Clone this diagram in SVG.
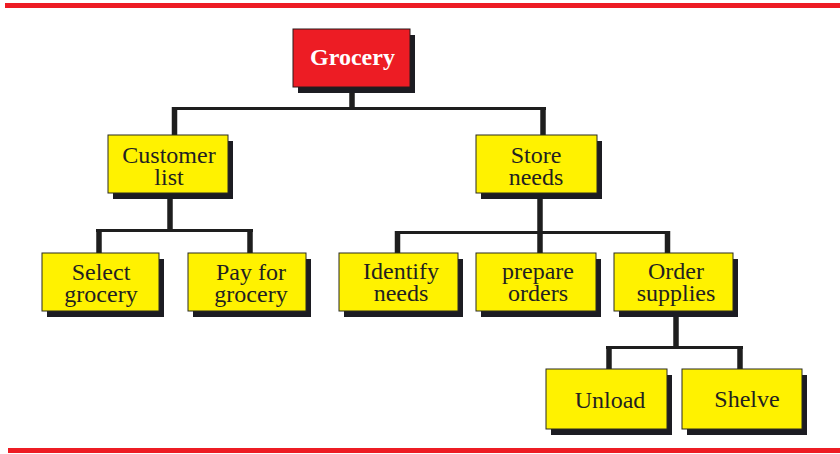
<svg xmlns="http://www.w3.org/2000/svg" width="840" height="454" viewBox="0 0 840 454">
<style>
.shadow{fill:#1c1c22}
.box{fill:#fff200;stroke:#2a2a20;stroke-width:1}
.root{fill:#ed1c24;stroke:#2a1a1a;stroke-width:1}
.t{font-family:"Liberation Serif","Times New Roman",serif;font-size:24px;fill:#231f20;text-anchor:middle}
.rt{font-family:"Liberation Serif","Times New Roman",serif;font-size:24px;font-weight:bold;fill:#ffffff;text-anchor:middle}
.h{stroke:#1e1e1e;stroke-width:3;fill:none}
.v{stroke:#1e1e1e;stroke-width:5.5;fill:none}
.rule{fill:#ed1c24}
</style>
<rect class="rule" x="5" y="3" width="835" height="5"/>
<rect class="rule" x="8" y="448" width="832" height="5"/>
<g id="connectors">
<line class="v" x1="352" y1="90" x2="352" y2="108"/>
<line class="h" x1="172" y1="108.5" x2="546" y2="108.5"/>
<line class="v" x1="174.5" y1="107" x2="174.5" y2="135"/>
<line class="v" x1="543" y1="107" x2="543" y2="135"/>
<line class="v" x1="170" y1="196" x2="170" y2="230"/>
<line class="h" x1="96" y1="230.5" x2="253" y2="230.5"/>
<line class="v" x1="99" y1="229" x2="99" y2="253"/>
<line class="v" x1="250" y1="229" x2="250" y2="253"/>
<line class="v" x1="540" y1="196" x2="540" y2="253"/>
<line class="h" x1="395" y1="232.5" x2="670" y2="232.5"/>
<line class="v" x1="397.5" y1="231" x2="397.5" y2="253"/>
<line class="v" x1="667.5" y1="231" x2="667.5" y2="253"/>
<line class="v" x1="676" y1="315" x2="676" y2="347"/>
<line class="h" x1="606" y1="347.5" x2="743" y2="347.5"/>
<line class="v" x1="609" y1="346" x2="609" y2="369"/>
<line class="v" x1="740" y1="346" x2="740" y2="369"/>
</g>
<g id="grocery">
<rect class="shadow" x="298" y="35" width="117" height="58"/>
<rect class="root" x="293" y="29" width="117" height="58"/>
<text class="rt" x="352.5" y="65">Grocery</text>
</g>
<g id="customer-list">
<rect class="shadow" x="113" y="141" width="120" height="58"/>
<rect class="box" x="108" y="135" width="120" height="58"/>
<text class="t" x="169" y="163">Customer</text>
<text class="t" x="169" y="185">list</text>
</g>
<g id="store-needs">
<rect class="shadow" x="481" y="141" width="121" height="58"/>
<rect class="box" x="476" y="135" width="121" height="58"/>
<text class="t" x="536" y="163">Store</text>
<text class="t" x="536" y="185">needs</text>
</g>
<g id="select-grocery">
<rect class="shadow" x="47" y="259" width="117" height="58"/>
<rect class="box" x="42" y="253" width="117" height="58"/>
<text class="t" x="101" y="280">Select</text>
<text class="t" x="101" y="302">grocery</text>
</g>
<g id="pay-for-grocery">
<rect class="shadow" x="193" y="259" width="118" height="58"/>
<rect class="box" x="188" y="253" width="118" height="58"/>
<text class="t" x="251" y="280">Pay for</text>
<text class="t" x="251" y="302">grocery</text>
</g>
<g id="identify-needs">
<rect class="shadow" x="344" y="259" width="119" height="58"/>
<rect class="box" x="339" y="253" width="119" height="58"/>
<text class="t" x="401" y="279">Identify</text>
<text class="t" x="401" y="301">needs</text>
</g>
<g id="prepare-orders">
<rect class="shadow" x="481" y="259" width="120" height="58"/>
<rect class="box" x="476" y="253" width="120" height="58"/>
<text class="t" x="538" y="279">prepare</text>
<text class="t" x="538" y="301">orders</text>
</g>
<g id="order-supplies">
<rect class="shadow" x="619" y="259" width="119" height="58"/>
<rect class="box" x="614" y="253" width="119" height="58"/>
<text class="t" x="676" y="279">Order</text>
<text class="t" x="676" y="301">supplies</text>
</g>
<g id="unload">
<rect class="shadow" x="551" y="375" width="121" height="60"/>
<rect class="box" x="546" y="369" width="121" height="60"/>
<text class="t" x="610" y="408">Unload</text>
</g>
<g id="shelve">
<rect class="shadow" x="687" y="375" width="120" height="60"/>
<rect class="box" x="682" y="369" width="120" height="60"/>
<text class="t" x="747" y="407">Shelve</text>
</g>
</svg>
